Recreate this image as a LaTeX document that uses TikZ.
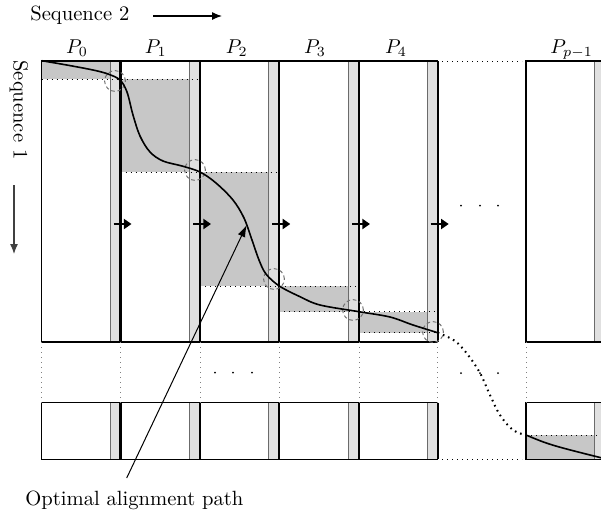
\documentclass[tikz,border=0pt]{standalone}
\usetikzlibrary{arrows.meta}
\definecolor{shadecol}{gray}{0.78}
\definecolor{stripcol}{gray}{0.88}
\definecolor{striplinecol}{gray}{0.42}
\begin{document}
\begin{tikzpicture}[x=0.5pt,y=-0.5pt,font=\fontsize{10.3}{12}\selectfont,
  shaded/.style={fill=shadecol},
  stripbox/.style={fill=stripcol,draw=striplinecol,line width=0.5pt},
  blockline/.style={draw=black,line width=0.6pt},
  edgeline/.style={line width=1.1pt},
  dotline/.style={dotted,line width=0.5pt},
  midline/.style={dotted,line width=0.5pt,draw=gray},
  joincirc/.style={draw=black!55,dash pattern=on 1.8pt off 1.4pt,line width=0.5pt},
  pathline/.style={line width=0.8pt},
  pusharrow/.style={line width=1.3pt,-{Triangle[length=3.8pt,width=5pt]}},
  dotmark/.style={fill=black}]
\useasboundingbox (0,0) rectangle (601,516);
\clip (0,0) rectangle (601,516);

% shaded regions
\fill[shaded] (41.7,61) rectangle (110.7,79.3);
\fill[shaded] (120.5,79.3) rectangle (189.7,172);
\fill[shaded] (200,172) rectangle (268.8,286);
\fill[shaded] (279.3,286) rectangle (348.5,311.7);
\fill[shaded] (359,311.7) rectangle (427.2,332.7);
\fill[shaded] (526,435) rectangle (593.7,459.3);

% blocks
\foreach \l/\r in {41.7/120.5,120.5/200,200/279.3,279.3/359,359/437.7,526/604.5} {
  \foreach \t/\b in {61/342,402.7/459.3} {
    \draw[stripbox] (\r-10.5,\t) rectangle (\r,\b);
    \draw[blockline] (\l,\t) rectangle (\r,\b);
    \draw[edgeline] (\r,\t) -- (\r,\b);
  }
}

% dotted boundaries of shaded regions
\draw[dotline] (41.7,79.3) -- (200,79.3);
\draw[dotline] (120.5,172) -- (279.3,172);
\draw[dotline] (200,286) -- (359,286);
\draw[dotline] (279.3,311.7) -- (437.7,311.7);
\draw[dotline] (359,332.7) -- (437.7,332.7);
\draw[dotline] (526,435) -- (604,435);

% middle dotted verticals and gaps
\foreach \x in {41.7,120.5,200,279.3,359,437.7,526}
  \draw[midline] (\x,342) -- (\x,402.7);
\draw[dotline] (442,61) -- (522,61);
\draw[dotline] (442,459.3) -- (522,459.3);

% ellipsis dots
\foreach \x/\y in {461/205.7,480/205.7,498/205.7,215/372.7,233/372.7,252/372.7,461/373,480/373,498/373}
  \fill[dotmark] (\x,\y) circle (0.5pt);

% junction circles
\foreach \p in {(115,81),(195,170),(274,279),(353,310),(433,332)}
  \draw[joincirc] \p circle (5.2pt);

% alignment path
\draw[pathline] plot[smooth,tension=0.55] coordinates {
  (41.7,60.7) (66.7,65) (93,70) (108,74) (120,80)
  (127,92) (133,115) (140,136) (150,152) (163,161) (182,166) (200,172)
  (216,183) (233,200) (244,218) (252,240) (259,260) (266,274) (279.3,286)
  (300,296.7) (320,305) (359,311.7)
  (390,317) (413,325) (437.7,332.7)};
\draw[pathline,dotted,line width=1pt] plot[smooth,tension=0.6] coordinates {
  (437.7,332.7) (455,341) (468,355) (480,373) (490,395) (500,415) (513,430) (526,435)};
\draw[pathline] (526,435) .. controls (550,445) .. (610,460);

% push arrows
\foreach \r in {120.5,200,279.3,359,437.7}
  \draw[pusharrow] (\r-7,224) -- (\r+11,224);

% labels
\node[anchor=base] (p0) at (77,53.3) {$P_0$};
\node[anchor=base] (p1) at (155.7,53.3) {$P_1$};
\node[anchor=base] (p2) at (236.7,53.3) {$P_2$};
\node[anchor=base] (p3) at (315,53.3) {$P_3$};
\node[anchor=base] (p4) at (396,53.3) {$P_4$};
\node[anchor=base] (pp) at (571.6,53.3) {$P_{p-1}$};

\node[anchor=base west,inner sep=0pt] (seq2) at (30,20.7) {Sequence 2};
\coordinate (s2a) at (153,16);
\coordinate (s2b) at (222,16);
\draw[line width=0.6pt,-{Latex[length=5pt,width=4pt]}] (s2a) -- (s2b);

\node[anchor=base west,inner sep=0pt,rotate=-90] (seq1) at (13.5,60) {Sequence 1};
\coordinate (s1a) at (14,185);
\coordinate (s1b) at (14,254);
\draw[line width=0.6pt,draw=black!75,-{Latex[length=5pt,width=4pt]}] (s1a) -- (s1b);

\node[anchor=base west,inner sep=0pt] (opt) at (25,505) {Optimal alignment path};
\coordinate (optstart) at (126.7,478);
\coordinate (opttip) at (246.7,225);
\draw[line width=0.5pt,-{Latex[length=6pt,width=4pt]}] (optstart) -- (opttip);
\end{tikzpicture}
\end{document}
